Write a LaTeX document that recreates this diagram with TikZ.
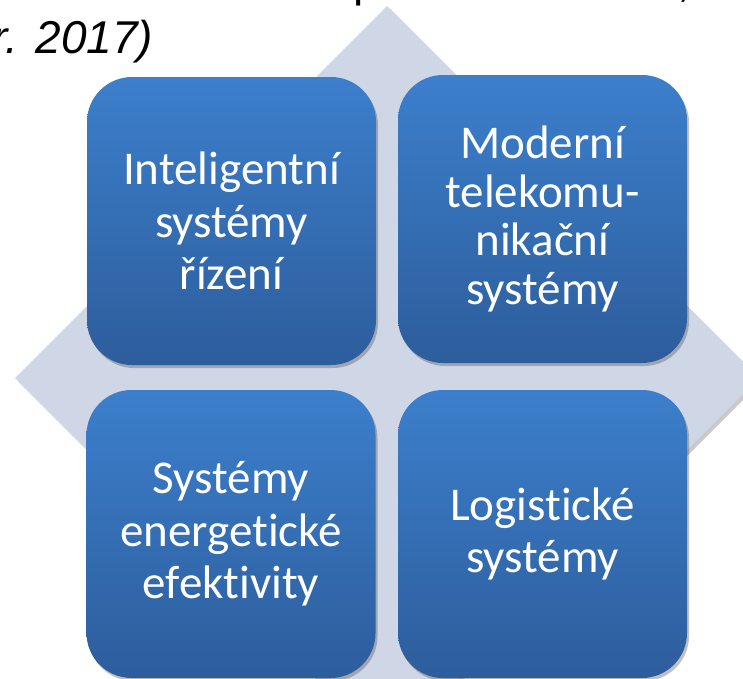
\documentclass[tikz,border=0pt]{standalone}
\usepackage{fontspec}
\setmainfont{Carlito}[Ligatures=NoCommon]
\newfontfamily\arialfont{Liberation Sans}
\usetikzlibrary{shadows,shadings}
\definecolor{diamfill}{RGB}{207,214,230}
\definecolor{boxtop}{RGB}{60,127,204}
\definecolor{boxbot}{RGB}{45,93,156}
\tikzset{
  tile/.style={rectangle, rounded corners=45pt, minimum width=289pt, minimum height=288pt,
    inner sep=0pt, top color=boxtop, bottom color=boxbot, draw=none,
    text=white, align=center,
    drop shadow={shadow xshift=2pt, shadow yshift=-3pt, opacity=0.35, fill=black!70}},
  bigtxt/.style={font=\fontsize{47}{52.5}\selectfont},
  fourtxt/.style={font=\fontsize{47}{48.7}\selectfont},
  caption/.style={inner sep=0pt, font=\arialfont\itshape\fontsize{46}{55}\selectfont, text=black}
}
\begin{document}
\begin{tikzpicture}[x=1pt,y=-1pt]
\useasboundingbox (0,0) rectangle (743,678);
\clip (0,0) rectangle (743,678);
% background diamond
\fill[diamfill, drop shadow={shadow xshift=3pt, shadow yshift=-3pt, opacity=0.3, fill=black!70}]
  (387,6) -- (759,378) -- (387,750) -- (15,378) -- cycle;
% caption fragments (cut off at the top)
\node[caption, anchor=base west] (capA) at (-8,53) {r. 2017)};
\node[caption, font=\arialfont\fontsize{46}{55}\selectfont, anchor=base west] (capB) at (353,-4) {p};
\node[caption, font=\arialfont\fontsize{46}{55}\selectfont, anchor=base west] (capC) at (677,-4) {,};
% tiles
\node[tile, bigtxt] (tl) at (231.5,221) {Inteligentní\\systémy\\řízení};
\node[tile, fourtxt] (tr) at (542.5,219) {Moderní\\telekomu-\\nikační\\systémy};
\node[tile, bigtxt] (bl) at (231,534) {Systémy\\energetické\\efektivity};
\node[tile, bigtxt] (br) at (542.5,534) {Logistické\\systémy};
\end{tikzpicture}
\end{document}
